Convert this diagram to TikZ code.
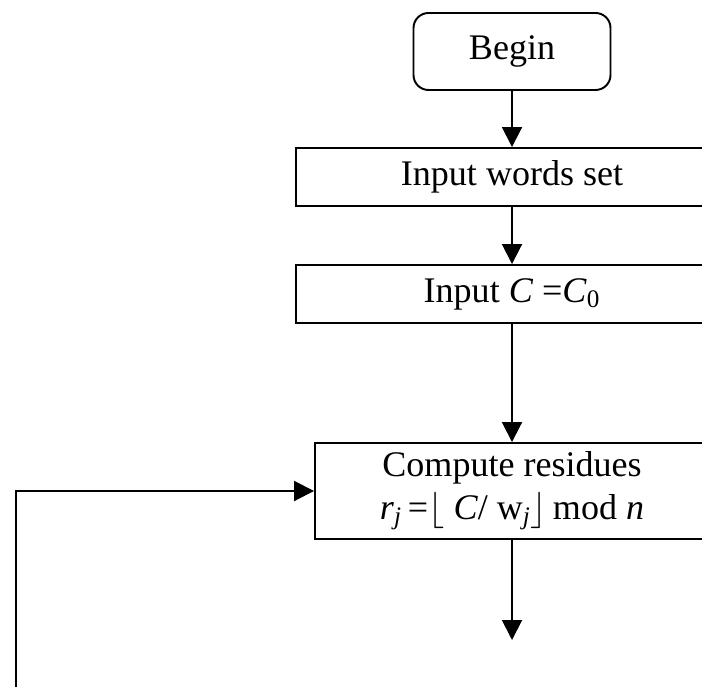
\documentclass[tikz,border=0pt]{standalone}
\usepackage{fontspec}
\setmainfont{Liberation Serif}
\usetikzlibrary{arrows.meta,positioning}

\begin{document}
\begin{tikzpicture}[
  font=\fontsize{20.5}{24}\selectfont,
  startbox/.style={draw,rounded corners=0.3cm,line width=1.1pt,minimum width=3.94cm,minimum height=1.54cm,align=center},
  procbox/.style={draw,line width=1.1pt,minimum width=8.64cm,minimum height=1.16cm,align=center,inner sep=0pt},
  flow/.style={-{Triangle[length=0.4cm,width=0.4cm]},line width=1.1pt}
]
\useasboundingbox (0,0) rectangle (14.04,-13.72);
\clip (0,0) rectangle (14.04,-13.72);

% Start of the procedure
\node[startbox] (begin) at (10.24,-1.03) {Begin};

% Input steps
\node[procbox] (words) at (10.24,-3.54) {Input words set};
\node[procbox] (cinit) at (10.24,-5.88) {Input \textit{C} =\textit{C}\textsubscript{0}};

% Residue computation
\node[procbox,minimum width=7.88cm,minimum height=1.92cm] (resid) at (10.24,-9.82) {Compute residues\\
  \textit{r}\textsubscript{\textit{j}}\,=$\lfloor$\ \textit{C}/\ w\textsubscript{\textit{j}}$\rfloor$\,mod \textit{n}};

% Free ends of the connectors
\coordinate (next) at (10.24,-12.8);
\coordinate (loopup) at (0.32,-9.82);
\coordinate (loopdown) at (0.32,-13.9);

% Connectors
\draw[flow] (begin) -- (words);
\draw[flow] (words) -- (cinit);
\draw[flow] (cinit) -- (resid);
\draw[flow] (resid) -- (next);
\draw[flow] (loopdown) -- (loopup) -- (resid);
\end{tikzpicture}
\end{document}
